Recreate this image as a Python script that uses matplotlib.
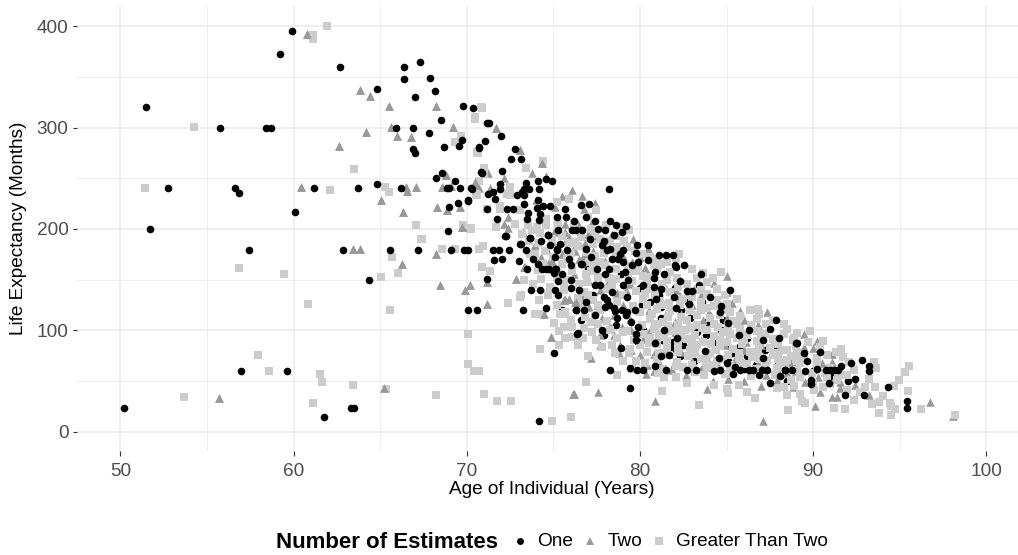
import matplotlib
matplotlib.use("Agg")
import matplotlib.pyplot as plt
from matplotlib.lines import Line2D

plt.rcParams['font.family'] = ['Liberation Sans', 'DejaVu Sans']

one_under_points = [
(77.3,135),(78.2,125),(79.2,115),(80.2,100),(81.3,90),(82.5,85),(83.8,95),(85,85),(86.2,75),(87.2,80),
(88,70),(89,65),(90,60),(91,55),(92,50),(80.6,128),(81.7,118),(82.8,128),(83.9,108),(85.1,98),
(86.2,92),(78.9,155),(80,142),(81.1,135),(82.4,120),(84.8,110),(83.4,145),(77,160),(76,142),(75.5,120),
(76.6,110),(77.9,95),(78.6,105),(79.9,88),(81,65),(82.3,75),(83.9,75),(85.1,70),(86,62),(88.5,50),
(80.8,165),(81.2,112),(82.9,112),(83.6,128),(80.1,125),(81.2,123),(82,142),(84.7,100),(83.3,98),(81.9,82),
(84.4,88),(85.8,84),(87.8,82),(88.9,75),(86.7,66),(85.3,78),(83.1,70),(81.9,88),
]

one_points = [
(51.5,320),(52.75,240),(55.75,300),(56.6,240),(56.85,235),(58.4,300),(58.7,300),(59.2,372.7),(59.9,395),(61.2,240),
(60.1,216.8),(62.7,359.5),(64.8,338),(63.75,240),(64.8,244),(65.9,300),(66.2,240),(66.4,359.5),(66.4,348),(67.3,364.5),
(66.9,300),(66.9,279),(67,275),(67,330),(67.9,349),(68.15,336),(67.8,295),(68.5,307.5),(68.7,281),(68.25,250),
(68.6,255),(69.3,247),(68.85,240),(69,240),(69.6,240),(70.25,240),(70.1,228.7),(69.5,225.7),(68.95,221.6),(68.9,198),
(69.8,321),(70.35,319.5),(69.75,288),(69.55,282),(70.7,281),(70.8,256),(51.7,200),
(62.85,179),(65.55,179),(67.2,179),(69.1,179),(69.85,179),(70.1,179),(71.5,179),(71.85,179),(72.45,179),(71.55,169.5),
(72.05,170),(57.45,179),(64.35,150),(70.1,119.5),(70.6,119.5),(73.25,119.5),(71.15,150.5),(73.7,140),(74.25,139.5),(75.1,139.5),
(73.15,185.5),(73.4,179.6),(72.2,193),(73.65,191.5),(74.1,165),(73.5,160),(74.35,160),(74.75,160),(75.15,160),(75.05,156.5),
(75.25,149),(74.7,194),(75.2,180),(76.3,120.4),(76.35,96.7),(75.05,78),(56.95,60),(59.6,60),(50.2,23.7),(63.3,23.7),
(63.5,23.7),(61.75,14.8),(74.2,10),
(71.15,305),(71.3,305),(72,292),(71.05,286.8),(70.7,280),(72.8,278.9),(72.55,269.4),(73.15,269.4),(70.9,255),(72.05,257.5),
(71.9,244.7),(71.9,239.8),(70.3,239.8),(71.5,236.5),(71.25,234.8),(73.45,245.7),(74.1,247),(74.55,249.6),(74.95,247),(74.2,239.8),
(73.6,239.8),(73.3,239.8),(73.2,236.5),(72.9,233.2),(73.3,233.2),(71.65,229.9),(70.05,227.6),(71.15,220),(72.3,220),(72.65,220),
(73.3,225),(74.1,228.9),(78.2,239.8),(71.75,210.2),(73.5,210.2),(73.55,216),(74.05,221),(74.4,223),(74.8,223),(75.65,220),
(76.6,224),(77.05,225),(74.25,215),(74.2,209),(75.2,211.8),(75.75,211.8),(72.25,193.4),(73.65,191.4),(73.1,185.5),
(74.7,194.4),(75.3,199.3),(76.1,199.3),(76.3,198.6),(76.65,199.3),(78,198.6),(78.6,204.2),(79.2,203.2),(78.5,194.4),(78.95,197),
(77.8,184.5),(79.85,184.5),(80.45,184.5),(81.1,174.6),(81.5,174.6),(81.9,174.6),(82.05,164),(82.55,164.8),(79.9,167.4),(80.45,169.7),
(79.05,167.4),(79.55,164),(78.4,170.7),(78.75,170.7),(79.05,179.6),(78.85,175.6),(75.2,179),(75.8,179),(78.1,179.6),(76.65,165.7),
(76,164.8),(74.6,160.8),(75.1,160.8),
(82.1,162),(76.6,165),(77.5,160),(78.2,160),(79.15,157.6),(78,155),(80.9,157),(80.8,152),(81.4,155),(83.55,155),
(82.3,148.8),(79,145),(77.4,144.5),(77.7,145),(80.2,144.5),(80.8,142.8),(81.2,140.2),(76.5,139.6),(85.2,139.6),(82.7,139),
(83,139),(84.05,133),(81.95,133),(79.25,133),(77.9,132.3),(80.95,130.7),(82.85,125.7),(84.7,124),(78,123),(78.5,122),
(78.55,119),(78.95,119.8),(79.25,117.5),(79.7,119.5),(82.1,121.5),(84.6,117.5),(76.3,119.8),(76.75,119.8),(78.65,111.6),(87.85,109.6),
(85.1,107.3),(86.3,100),(87.5,101.7),(88.05,92.5),(89.05,87),(87.1,90),(85.7,95),(81.4,100.7),(77.8,100),(76.4,97.5),
(79.75,95.8),(79.8,90.2),(80.9,87),(82.15,92.8),(83.75,79.4),(81.7,75.4),(81.2,74.7),(84.55,72.1),(87.1,72.1),(85,67.9),
(78.3,60.3),(79.85,61),(80.15,60.3),(82.7,60.3),(83.25,60.3),(86.3,60.3),(86.55,60.3),(87.05,60.3),(87.35,60.3),(88.4,60.3),
(79.4,42.5),(79.4,63),(85.4,57),
(90.4,79),(92.8,71.1),(92.2,67.2),(93.2,64.5),(93.2,60),(88.4,60.6),(90.75,60.3),(91,60.3),(91.2,60.3),(91.45,60.3),
(89,86.9),(92.4,51.4),(94.3,43.5),(91.85,35.6),(92.95,35.6),(95.4,29.7),(95.45,23.7),(89.9,50.7),(89.9,46.8),(89.65,69.5),(89.55,60),
(76.2,208),(76.9,212),(77.4,208),(77.6,200),(78.3,208),(77.1,190),(77.9,188),(76.9,180),(75.9,170),(75.4,185),
(75.1,172),(74.8,184),(74.3,188),(73.8,170),(73,168),(76,150),(75.5,155),(77.2,172),(78.3,180),(79.8,176),
(79.3,150),(78.4,138),(76.9,128),(75.3,135),(74.6,122),(78.1,130),(79.5,108),(79.9,103),(78.9,82),(77.4,115),
(84.3,60),(89.5,78),(90.2,62),(91.6,65),(88.8,60.3),(85.8,60.3),(84.6,60.3),(81.5,60.3),(80.9,65),(90.9,48),
(88.1,55),(87.5,48),(86.9,56),(85.5,64),
]

two_points = [
(60.8,392.5),(63.85,337.5),(64.4,331.5),(65.5,321),(64.2,296),(65.65,301),(66,291.5),(66.8,291),(62.6,281.5),(60.45,241),
(66.5,241),(66.55,237),(67.1,241),(65.05,229),(66.3,217),(68.2,321),(69.2,301),(68.8,253.5),(68.55,241),(69.1,242),
(68.3,222),(68.85,219),(69.6,221.5),(69.75,202),(70.5,246),
(63.45,180.5),(63.85,180.5),(66.25,165.5),(68.25,175.5),(68.45,144.5),(69.9,140),(70.2,144.5),(71.15,147.7),(71.15,126),(72.85,151),
(73.35,162),(74.9,168.5),(74.85,93.5),(74.45,116.5),(55.7,33.5),(65.25,42.5),(76.2,37),(75.6,130),(75.9,131),(76.3,128),
(71.7,300),(73.1,277.6),(74.35,265),(73.75,255.2),(72.15,250.6),(74.55,252),(71.25,255.2),(70.5,244),(70.7,240.4),(71.35,240.8),
(76.1,238.8),(75.5,232.2),(76.65,232.5),(77.4,225.6),(76.8,220),(75.1,221.7),(74,228.2),(72.4,211.8),(72.15,205.2),(72.4,201),
(77.15,205.2),(75.7,205.2),(73.25,197),(75.05,197),(75.7,197),(77.5,193),(79.6,190.4),(76.85,186.2),(73.95,184.5),(74.65,179.6),
(76.25,178.2),(80.45,179.6),(69.8,202),(73.8,180.5),(74.8,169),(73.3,162.5),(75.7,187),(76.75,173),(79.55,167),(80.3,161.5),
(77.15,72.8),(76.15,36.9),(77.6,39.2),(80.9,29.7),(83.9,42.2),(87.1,10.6),(85.05,154),(84.25,146.8),(85.05,137.9),(87.35,118),
(85.3,126.4),(85.8,119),(83.1,141),(78.85,85.3),(78.8,77.7),(77.7,95),(77.7,85.3),(78.95,103.4),(78.3,104),(79.45,111),
(79.95,105),(77.8,111.6),(80.4,65.6),(80.35,56.7),(81.95,66.5),(81.85,60.6),(82.65,55.7),(85.1,51.7),(87,44.8),(87.9,50.8),
(88.7,68),(80,75.4),(80.8,77),(81.05,71),(82.4,78.7),(83.1,82),(83.65,110),(82.4,116.5),(86.1,88.6),(84.9,85.3),
(81,93.5),(80.2,90.9),(77.05,123),(76.25,128),(75.7,131.3),(78.7,136.3),(77.7,139.6),(82.3,133.6),(80.3,161),(79.45,146),
(76.75,174),(76.15,179),(80.45,180.7),
(89.5,95.8),(90.2,89.2),(89.5,83.6),(90,82),(91.1,77),(91.1,68.8),(90.5,67.2),(88.6,68.8),(88.85,68.8),(91.65,58),
(90.3,54),(89.55,49),(91.55,49),(90.4,39.2),(91.55,42.5),(91.1,34.3),(91.4,34.3),(90.1,25.4),(93.25,36),(96.75,29.3),
(98.1,15.2),(92.4,45.8),(88.85,43.5),
(75.2,210),(75.9,192),(76.4,205),(77,195),(77.9,205),(78.4,195),(74.1,200),(74.9,188),(75.5,175),(76.5,170),
(77.3,178),(78,168),(79,173),(80,172),(81,165),(74.3,172),(75.4,150),(76.2,155),(77,150),(78.2,150),
(79.2,140),(80.3,150),(81.3,145),(82.1,140),(83.5,135),(84.6,125),(76.7,133),(77.5,125),(78.5,115),(79,125),
(80.5,120),(81.5,115),(82,108),(83,125),(84,118),(85,112),(86,110),(86.8,105),(78.5,95),(79.5,100),
(80.5,98),(82,98),(83.5,90),(85,90),(86,80),(87,85),(88,80),(81.5,80),(83,70),(84.5,65),
(85.5,72),(86.8,68),(79.5,80),(80.8,60),(83.5,62),(84.2,50),(86,50),(88.5,58),(89,60),(88,60),(87.3,56),
]

many_points = [
(51.45,240),(54.25,301),(61.1,391),(61.1,387),(61.95,400),(62.1,238),(63.5,259.5),(65.3,241),(65.5,236),(67.1,204),
(67.35,190.5),(69.65,292),(69.3,285.5),(70.5,310),(70.8,320),(70.6,276),(69.8,203.5),(70.25,200.5),(70.55,234),(70.7,247),
(56.85,161),(59.45,155),(60.85,125.5),(65.7,172),(67.4,190),(68.55,180),(69.35,180),(70.7,180),(70.95,183),(65.05,153),
(66.05,156.5),(65.6,119.7),(70.9,162.5),(71.35,158.5),(72.4,127),(73.1,133),(73.15,134.5),(73.95,116.5),(74.3,116),(75.05,107),
(75.35,99.3),(75.7,103),(76.1,103),(76.3,93.5),(75.35,85),(74.25,81.5),(70.05,96),(70.1,66.5),(70.45,60),(70.7,60),
(57.95,75.3),(58.6,60),(61.55,56.5),(61.65,48.7),(63.45,45.7),(65.35,41.8),(68.25,36),(71,36.8),(71.75,30),(72.55,30),
(53.7,34),(61.1,28),(74.9,10.5),(76.05,14),(74.4,165),(74.75,160),(74.1,159),(75.6,116.5),(75.4,116),
(70.9,319.4),(70.5,308.8),(70.65,275),(74.4,267),(73.4,260.5),(71,260.5),(71,254.6),(72.5,241.4),(72.5,233),(72.3,234),
(70.6,233),(71.95,223),(71.95,220),(71.15,219.4),(75.2,226.6),(75.9,230),(77.45,218.4),(73.1,218.4),(74.55,210),(71.7,202),
(70.25,200),(73.55,203.6),(73.75,198.6),(74.05,202),(74.25,196),(78.05,203.6),(78.85,202),(79.35,199.3),(77.4,195),(76.25,187),
(77.3,185),(78.1,182),(78.7,182),(79.25,182),(70.95,183),(70.7,180),(82.25,175),(81.55,167.4),(80.8,164),(75.8,170),
(70.9,162),(73.65,175.6),(73.95,175),(77.05,167.4),(77.6,167.4),(78.6,175.6),
(76.9,49),(76,14.5),(78.65,56),(83.4,26),(88.55,21),(81.25,39.9),(82.7,48),(84.3,45.5),(85,41.5),(85.1,38.2),
(86.65,33),(85.7,45.8),(86.2,39.2),(87.9,42.5),(88.5,36),(76.1,93.5),(76.7,91.9),(77.25,98.4),(77.45,90.2),(77.8,83.6),
(78.55,77.7),(79.35,77.7),(79.55,62),(81.05,57.3),(81.4,53.4),(82.1,53.4),(83.7,55.7),(84.7,157.7),(83.65,156),(76,105),
(75.6,103.4),(76.85,113),(75.8,169),(75.7,118),
(77.15,169),(77.7,167),(81,170),(81.55,168),(82.1,171),
(77.2,158),(78.6,160),(79.8,158),(81,161),(81.75,157),
(75.8,150),(76.95,148),(78.6,151),(79.55,149),(80.4,147),(81.55,150),(82.15,152),(83.85,148),
(75.6,140),(76.75,138),(78.1,141),(79.75,139),(80.6,141),(81.75,138),(83.5,140),(84.45,141),
(77.3,130),(78.65,128),(80.2,131),(81.15,129),(82.5,131),(83.5,128),(84.45,130),(85.6,131),
(77.7,120),(80,118),(81,121),(81.75,119),(82.9,120),(83.85,122),(85.2,118),(86.35,120),
(76,110),(78.1,109),(80.6,111),(81.35,108),(82.7,110),(84.05,112),(85.4,109),(86.75,111),
(79.25,99),(80.8,101),(81.75,99),(82.9,102),(83.85,100),(84.8,98),(85.8,101),(86.75,99),(88.5,101),
(79.65,90),(80.6,92),(81.55,89),(82.7,91),(83.65,88),(84.65,90),(85.6,92),(86.75,89),(87.7,91),(88.85,90),
(79.45,81),(80.4,79),(81.55,82),(82.9,80),(84.05,78),(85.4,81),(86.35,79),(87.5,82),(88.5,80),
(81,71),(82.15,69),(83.5,72),(84.45,70),(85.8,68),(87.35,71),(88.1,69),(89.05,70),
(81.35,62),(83.85,63),(84.65,61),(85.6,64),(86.75,62),(87.9,63),(89.05,61),
(78,164),(79.3,163),(80.2,154),(77.6,153),(79,135),(80.9,135),(82.2,143),(83,133),(84.9,135),(77.6,125),
(79.6,124),(80.4,125),(81.4,125),(82.3,125),(83.3,115),(84.6,115),(85.8,114),(86.9,116),(80.1,105),(81,106),
(82.2,105),(83.3,105),(84.3,106),(85.1,104),(87.3,106),(80.2,96),(81.1,95),(82.2,97),(83.2,95),(84.3,94),
(85.2,96),(86.2,95),(87.2,96),(88.3,96),(80,85),(81,86),(82.2,85),(83.3,85),(84.6,84),(85.9,86),
(86.9,85),(88,86),(89,84),(81.7,76),(82.8,75),(83.9,74),(85.1,76),(86.5,74),(87.7,76),(88.7,75),
(82.5,64),(84.3,66),(85.2,66),(86.2,67),(87.3,65),(88.4,66),
(72.8,205),(73.2,195),(73.6,188),(74.1,186),(74.6,204),(74.9,190),(75.3,205),(75.5,193),(75.9,186),(76.2,206),
(76.6,192),(77,212),(77.2,200),(77.7,190),(74.5,178),(75,172),(75.5,165),(76,176),(76.4,183),(76.9,177),
(77.4,173),(77.9,176),(78.3,188),(78.6,193),(79.1,188),(79.7,178),(80.1,175),(80.6,172),(81.2,165),(73.3,150),
(73.8,146),(74.3,151),(74.8,143),(75.2,153),(75.6,145),(76.1,158),(76.5,146),(76.9,155),(77.3,163),(77.6,148),
(74.2,130),(74.7,135),(75.2,125),(76.4,132),(76.7,125),(77,135),(77.4,115),(78.4,145),(78.2,152),(79.3,155),
(79.9,163),(80.5,153),(81.3,146),(82.7,146),(83.3,152),(83,160),(76.8,102),(77.6,106),(78.3,100),(78.7,92),
(79,98),(78.4,85),(79,70),(79.8,70),(80.3,68),(77.2,108),(76.4,85),(77,75),(75.7,92),
(89.05,97.4),(89.8,99.4),(90.55,89.2),(91.6,81.3),(93.5,68.8),(93.65,62.9),(95.55,64.5),(95.3,58.3),(94.95,50.7),(94.65,44.8),
(93.55,44.1),(93.2,51.7),(95.5,40.2),(96.25,22.4),(98.2,16.8),(88.55,21.1),(89.35,30.3),(89.55,28.3),(91.2,23.7),(91.85,22.4),
(93.8,18.5),(94.5,16.2),(94.75,21.8),(94.45,27.7),(94.5,25),(94.05,34.9),(93.8,29.3),(93.4,27),(92.35,31),(92.7,39.2),
(93,44.1),(88.5,35.9),(92.35,60.6),(91.75,73.7),(88.3,80.3),(89.05,78.7),(88.5,70.4),(89.25,67.2),(90.2,72.1),(89.95,57.3),
(90.8,54),(91.95,55.6),(90.6,44.1),(91,47.4),(91.95,40.9),(89.25,37.5),(90.05,40.9),(88.7,50.7),(88.3,44.1),(90.4,83.6),
(91.3,78.7),(92.05,68.8),(89.25,54),(91.4,50.7),
(80.7,116),(81.6,113),(82.4,113),(83.5,120),(84.3,124),(85,126),(80.9,103),(81.6,104),(82.6,100),(83.6,102),
(84.5,103),(85.6,106),(86.4,105),(80.5,87),(81.4,93),(82.4,93),(83,88),(84.1,86),(85,88),(86,90),
(87,92),(87.8,86),(81.1,78),(82.2,79),(83.2,78),(84.4,80),(85.7,78),(86.8,79),(88,78),(89,72),
(82.1,65),(83,66),(83.8,68),(84.8,72),(85.7,73),(86.9,72),(88,72),(89.5,74),(90.2,66),(91,63),
(90,48),(88.9,45),(87.8,56),(86.4,55),(85.2,58),(84.9,57),(83.2,59),(90.7,58),(91.5,56),(89.7,88),
(88.9,92),(90.8,76),(81.7,127),(82.9,136),(83.9,136),(85,120),(86.8,121),(87.7,110),(88.3,106),(84.2,152),
(80.3,136),(81.4,141),
]

group_labels = ["One", "Two", "Greater Than Two"]
legend_title = "Number of Estimates"
x_label = "Age of Individual (Years)"
y_label = "Life Expectancy (Months)"
x_ticks = [50, 60, 70, 80, 90, 100]
x_minor = [55, 65, 75, 85, 95]
y_ticks = [0, 100, 200, 300, 400]
y_minor = [50, 150, 250, 350]

fig = plt.figure(figsize=(10.18, 5.55), dpi=100)
ax = fig.add_axes([77 / 1018, 1 - 451 / 555, (1018 - 77) / 1018, (451 - 6) / 555])
ax.set_xlim(47.5, 101.83)
ax.set_ylim(-19.2, 420)
for s in ax.spines.values():
    s.set_visible(False)
ax.set_axisbelow(True)
ax.set_xticks(x_ticks)
ax.set_yticks(y_ticks)
ax.set_xticks(x_minor, minor=True)
ax.set_yticks(y_minor, minor=True)
ax.grid(True, which='major', color='#EBEBEB', lw=1.1)
ax.grid(True, which='minor', color='#EBEBEB', lw=0.6)
ax.tick_params(axis='y', which='major', length=3.2, width=0.8, color='#333333', labelcolor='#4D4D4D', labelsize=13.7, pad=3)
ax.tick_params(axis='x', which='major', length=3.6, width=0.8, color='#333333', labelcolor='#4D4D4D', labelsize=13.7, pad=5)
ax.tick_params(which='minor', length=0)

def xy(points):
    return [p[0] for p in points], [p[1] for p in points]

ax.scatter(*xy(one_under_points), marker='o', s=30, c='black', linewidths=0, zorder=2.8, clip_on=False)
ax.scatter(*xy(two_points), marker='^', s=38, c='#999999', linewidths=0, zorder=2.9, clip_on=False)
ax.scatter(*xy(many_points), marker='s', s=32, c='#CCCCCC', linewidths=0, zorder=3, clip_on=False)
ax.scatter(*xy(two_points[:48]), marker='^', s=38, c='#999999', linewidths=0, zorder=3.2, clip_on=False)
ax.scatter(*xy(one_points), marker='o', s=30, c='black', linewidths=0, zorder=3.4, clip_on=False)

fig.text(552 / 1018, 1 - 490 / 555, x_label, fontsize=13.65, ha='center', va='center')
fig.text(19 / 1018, 1 - 228 / 555, y_label, fontsize=13.65, ha='center', va='center', rotation=90)

fig.text(276.5 / 1018, 1 - 542 / 555, legend_title, fontsize=16, fontweight='bold', va='center', ha='left')

legend_y = [541, 541, 541]
text_x = [537, 608, 676]
marker_x = [520, 590, 659]
marker_style = [('o', 'black', 5), ('^', '#999999', 6.3), ('s', '#CCCCCC', 5.6)]
for lab, tx, mx, ly, (m, c, ms) in zip(group_labels, text_x, marker_x, legend_y, marker_style):
    fig.add_artist(Line2D([mx / 1018], [1 - ly / 555], marker=m, ls='', color=c, ms=ms, mew=0,
                          transform=fig.transFigure))
    fig.text(tx / 1018, 1 - (ly + 1) / 555, lab, fontsize=13.7, va='center', ha='left')

fig.savefig("out.png", dpi=100)
